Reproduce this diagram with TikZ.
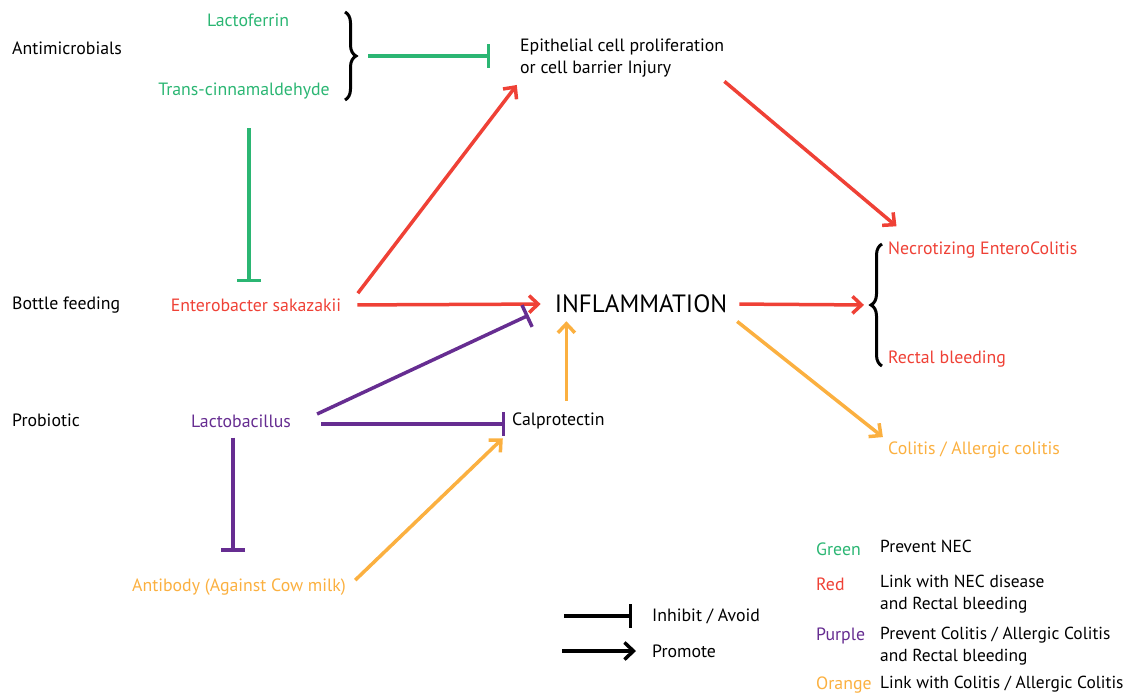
\documentclass[tikz,border=0pt]{standalone}
\usepackage{fontspec}
\setmainfont{PT Sans}
\usepackage{tikz}
\usetikzlibrary{arrows.meta, decorations.pathreplacing}

\definecolor{necgreen}{RGB}{43,182,115}
\definecolor{necred}{RGB}{239,65,54}
\definecolor{necpurple}{RGB}{102,45,145}
\definecolor{necorange}{RGB}{251,176,64}

\begin{document}
\begin{tikzpicture}[x=1pt, y=-1pt, font=\fontsize{17.8}{22}\selectfont,
    lbl/.style={inner sep=2pt, anchor=west},
    txt/.style={inner sep=2pt},
    key/.style={inner sep=2pt, anchor=north west, align=left, font=\fontsize{17.4}{22}\selectfont},
    pro/.style={line width=3.5pt, -{Straight Barb[length=9pt, width=17pt]}},
    inh/.style={line width=3.5pt, -{Bar[width=24pt]}},
    brc/.style={line width=3pt, decorate, decoration={brace, amplitude=11pt}}]
    \useasboundingbox (0,0) rectangle (1126,696);

    % row labels
    \node[lbl]                  (AM)  at (10, 48)     {Antimicrobials};
    \node[lbl]                  (BF)  at (10, 305)    {Bottle feeding};
    \node[lbl]                  (PB)  at (10, 420)    {Probiotic};

    % agents
    \node[txt, necgreen]        (LF)  at (248, 20)    {Lactoferrin};
    \node[txt, necgreen]        (TC)  at (244, 91)    {Trans-cinnamaldehyde};
    \node[txt, necred]          (ES)  at (256, 305)   {Enterobacter sakazakii};
    \node[txt, necpurple]       (LB)  at (241, 421)   {Lactobacillus};
    \node[txt, necorange]       (AB)  at (239, 587)   {Antibody (Against Cow milk)};

    % middle
    \node[lbl, align=left]      (EP)  at (518, 58)    {Epithelial cell proliferation \\ or cell barrier Injury};
    \node[txt, font=\fontsize{25}{28}\selectfont] (INF) at (641, 304) {INFLAMMATION};
    \node[lbl]                  (CP)  at (510, 421)   {Calprotectin};

    % outcomes
    \node[lbl, necred]          (NEC) at (886, 250)   {Necrotizing EnteroColitis};
    \node[lbl, necred]          (RB)  at (886, 359)   {Rectal bleeding};
    \node[lbl, necorange]       (CO)  at (886, 450)   {Colitis / Allergic colitis};

    % braces
    \draw[brc] (345, 12) -- (345, 100);
    \coordinate (brL) at (357, 56);
    \draw[brc] (882, 366) -- (882, 244);
    \coordinate (brR) at (870, 305);

    % green
    \draw[inh, necgreen] ([xshift=11pt]brL) -- ([xshift=-28pt]EP.west |- brL);
    \draw[inh, necgreen, shorten <=27pt, shorten >=14pt] ([xshift=5pt]TC.south) -- ([xshift=5pt]TC.south |- ES.north);

    % red
    \draw[pro, necred, shorten <=14pt, shorten >=12pt] (ES.east) -- (INF.west);
    \draw[pro, necred, shorten <=4pt, shorten >=2pt] ([xshift=12pt]ES.north east) -- ([yshift=-4pt]EP.south west);
    \draw[pro, necred, shorten >=2pt] ([shift={(-2,2)}]EP.south east) -- ([shift={(12,-12)}]NEC.north west);
    \draw[pro, necred, shorten <=10pt, shorten >=6pt] (INF.east) -- (brR);

    % purple
    \draw[inh, necpurple] ([xshift=24pt, yshift=7pt]LB.east) -- ([xshift=-24pt]INF.south west);
    \draw[inh, necpurple, shorten <=28pt, shorten >=5pt] ([yshift=-3pt]LB.east) -- ([yshift=-3pt]CP.west);
    \draw[inh, necpurple, shorten <=8pt, shorten >=25pt] ([xshift=-8pt]LB.south) -- ([xshift=-8pt]LB.south |- AB.north);

    % orange
    \draw[pro, necorange, shorten <=10pt, shorten >=6pt] ([xshift=8pt]CP.north) -- ([xshift=8pt]CP.north |- INF.south);
    \draw[pro, necorange, shorten <=10pt, shorten >=10pt] (AB.east) -- (CP.south west);
    \draw[pro, necorange, shorten <=10pt, shorten >=4pt] (INF.south east) -- (CO.north west);

    % legend
    \node[lbl]                  (LI)  at (650, 616)   {Inhibit / Avoid};
    \node[lbl]                  (LP)  at (650, 651)   {Promote};
    \draw[inh] ([xshift=-86pt]LI.west) -- ([xshift=-18pt]LI.west);
    \draw[pro] ([xshift=-88pt]LP.west) -- ([xshift=-14pt]LP.west);

    \node[lbl, necgreen]        (KG)  at (814, 549)   {Green};
    \node[lbl, necred]          (KR)  at (814, 584)   {Red};
    \node[lbl, necpurple]       (KP)  at (814, 636)   {Purple};
    \node[lbl, necorange]       (KO)  at (814, 685)   {Orange};
    \node[key] (DG) at (878, 538) {Prevent NEC};
    \node[key] (DR) at (878, 573) {Link with NEC disease \\ and Rectal bleeding};
    \node[key] (DP) at (878, 625) {Prevent Colitis / Allergic Colitis \\ and Rectal bleeding};
    \node[key] (DO) at (878, 674) {Link with Colitis / Allergic Colitis};
\end{tikzpicture}
\end{document}
